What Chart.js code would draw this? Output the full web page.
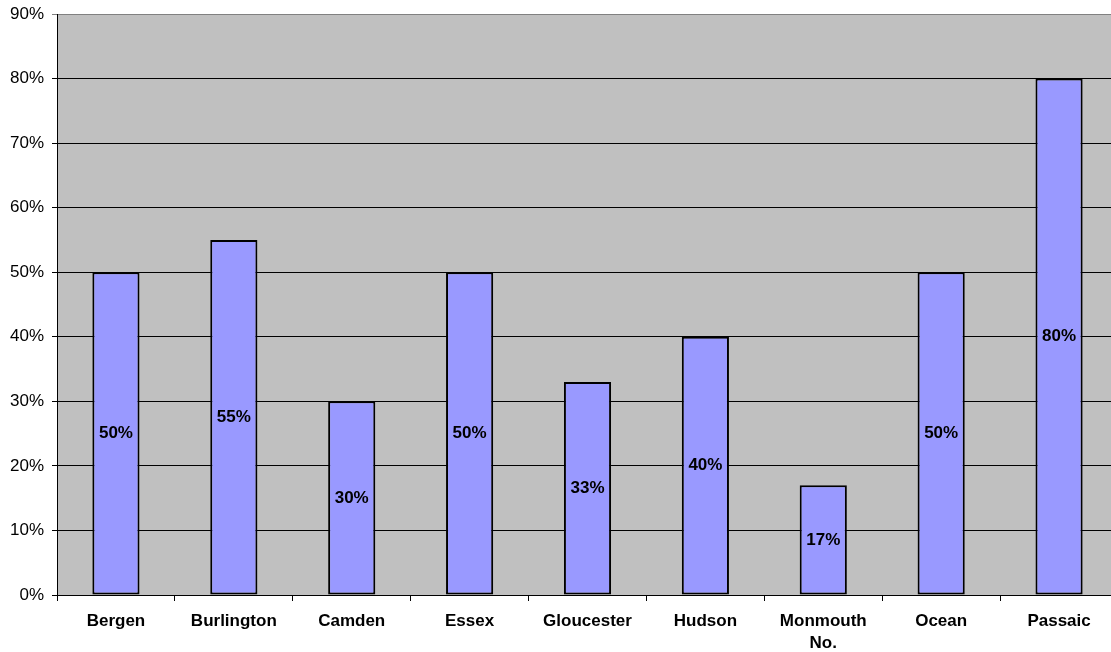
<!DOCTYPE html>
<html>
<head>
<meta charset="utf-8">
<script src="https://cdn.jsdelivr.net/npm/chart.js@4/dist/chart.umd.min.js"></script>
<style>
  html, body { margin: 0; padding: 0; background: #ffffff; overflow: hidden; }
  #wrap { width: 1111px; height: 652px; position: relative; overflow: hidden; }
  #chart { position: absolute; left: 0; top: 0; }
</style>
</head>
<body>
<div id="wrap"><canvas id="chart" width="1118" height="652"></canvas></div>
<script>
// Counties and their shares (percent)
const counties = ['Bergen', 'Burlington', 'Camden', 'Essex', 'Gloucester', 'Hudson', ['Monmouth', 'No.'], 'Ocean', 'Passaic'];
const shares = [50, 55, 30, 50, 33, 40, 17, 50, 80];
const yTicks = [0, 10, 20, 30, 40, 50, 60, 70, 80, 90];

const FONT = "'Liberation Sans', Arial, sans-serif";

// Grey plot background
const plotBackground = {
  id: 'plotBackground',
  beforeDraw(chart) {
    const { ctx, chartArea: a } = chart;
    ctx.save();
    ctx.fillStyle = '#C0C0C0';
    ctx.fillRect(a.left, a.top, a.right - a.left, a.bottom - a.top);
    ctx.restore();
  }
};

// Value labels centred inside each bar
const barValueLabels = {
  id: 'barValueLabels',
  afterDatasetsDraw(chart) {
    const { ctx } = chart;
    const meta = chart.getDatasetMeta(0);
    const data = chart.data.datasets[0].data;
    ctx.save();
    ctx.font = 'bold 17px ' + FONT;
    ctx.fillStyle = '#000000';
    ctx.textAlign = 'center';
    ctx.textBaseline = 'middle';
    meta.data.forEach((bar, i) => {
      const y = (bar.y + bar.base) / 2;
      ctx.fillText(data[i] + '%', bar.x, y);
    });
    ctx.restore();
  }
};

new Chart(document.getElementById('chart'), {
  type: 'bar',
  data: {
    labels: counties,
    datasets: [{
      data: shares,
      backgroundColor: '#9999FF',
      borderColor: '#000000',
      borderWidth: 2,
      borderSkipped: false,
      barPercentage: 0.4,
      categoryPercentage: 1.0
    }]
  },
  options: {
    responsive: false,
    animation: false,
    devicePixelRatio: 1,
    layout: { padding: { top: 14, right: 0, left: 0, bottom: 0 } },
    plugins: {
      legend: { display: false },
      tooltip: { enabled: false }
    },
    scales: {
      x: {
        offset: true,
        grid: {
          offset: true,
          drawOnChartArea: false,
          drawTicks: true,
          tickLength: 6,
          color: '#000000',
          lineWidth: 1
        },
        border: { display: true, color: '#000000', width: 1 },
        ticks: {
          color: '#000000',
          font: { family: FONT, size: 17, weight: 'bold', lineHeight: 1.25 },
          padding: 10,
          maxRotation: 0,
          autoSkip: false
        },
        afterFit(scale) {
          scale.height = 57;
          scale.paddingLeft = 0;
          scale.paddingRight = 0;
        }
      },
      y: {
        min: 0,
        max: 90,
        afterBuildTicks(scale) { scale.ticks = yTicks.map(v => ({ value: v })); },
        grid: {
          drawTicks: true,
          tickLength: 5,
          color(ctx) { return ctx.tick && ctx.tick.value === 90 ? '#808080' : '#000000'; },
          lineWidth: 1
        },
        border: { display: true, color: '#000000', width: 1 },
        ticks: {
          color: '#000000',
          font: { family: FONT, size: 17 },
          padding: 8,
          callback(v) { return v + '%'; }
        },
        afterFit(scale) {
          scale.width = 57;
          scale.paddingTop = 0;
          scale.paddingBottom = 0;
        }
      }
    }
  },
  plugins: [plotBackground, barValueLabels]
});
</script>
</body>
</html>
